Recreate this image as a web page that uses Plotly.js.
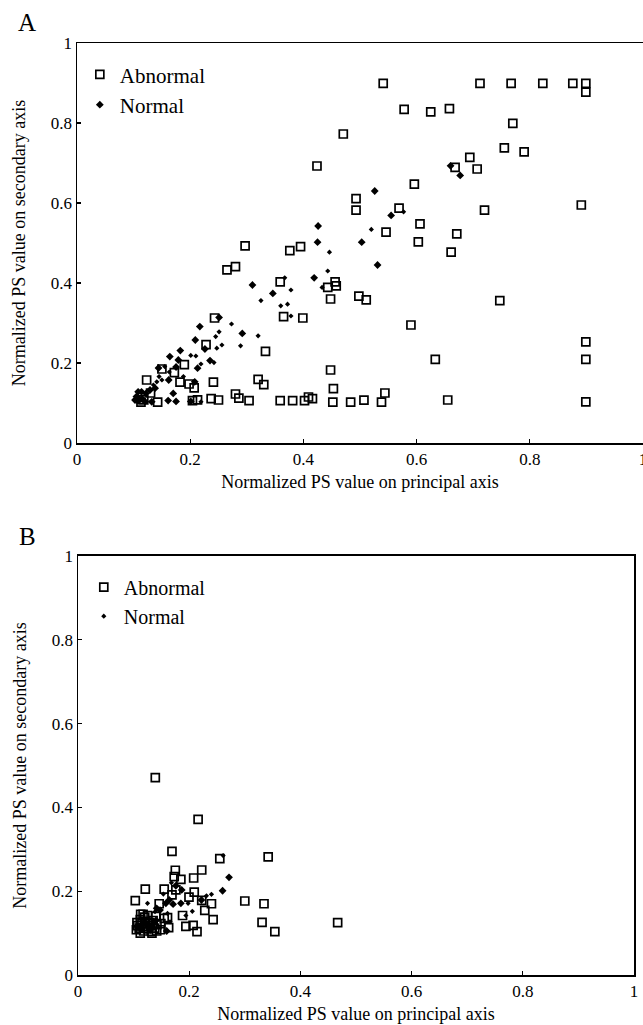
<!DOCTYPE html>
<html>
<head>
<meta charset="utf-8">
<script src="https://cdn.plot.ly/plotly-3.0.1.min.js"></script>
<style>html,body{margin:0;padding:0;background:#fff;}#chart{width:643px;height:1025px;}</style>
</head>
<body>
<div id="chart"></div>
<script>
// ---- Panel A data ----
const aAbnormalX = [0.541,0.712,0.767,0.823,0.876,0.899,0.899,0.578,0.625,0.658,0.770,0.755,0.790,0.694,0.668,0.707,0.596,0.569,0.720,0.891,0.606,0.546,0.671,0.603,0.661,0.4705,0.424,0.493,0.493,0.297,0.376,0.395,0.265,0.280,0.359,0.456,0.443,0.458,0.448,0.498,0.511,0.747,0.590,0.365,0.399,0.243,0.333,0.228,0.1896,0.150,0.172,0.182,0.198,0.207,0.241,0.123,0.320,0.330,0.899,0.899,0.633,0.448,0.453,0.544,0.113,0.1425,0.204,0.213,0.237,0.250,0.280,0.286,0.304,0.359,0.381,0.402,0.409,0.416,0.452,0.4835,0.507,0.538,0.655,0.899,0.130,0.118];
const aAbnormalY = [0.899,0.899,0.899,0.899,0.899,0.899,0.877,0.834,0.828,0.836,0.799,0.738,0.728,0.714,0.689,0.685,0.647,0.587,0.582,0.595,0.548,0.527,0.523,0.503,0.477,0.7725,0.6925,0.611,0.582,0.493,0.481,0.491,0.433,0.441,0.403,0.403,0.389,0.393,0.360,0.367,0.358,0.356,0.295,0.316,0.3125,0.3125,0.229,0.246,0.196,0.185,0.176,0.152,0.1475,0.138,0.152,0.1575,0.159,0.146,0.253,0.209,0.209,0.1825,0.136,0.125,0.102,0.102,0.106,0.108,0.111,0.1075,0.1225,0.112,0.106,0.106,0.106,0.106,0.115,0.111,0.102,0.102,0.107,0.102,0.1075,0.103,0.125,0.108];
const aNormalDotX = [0.660,0.677,0.526,0.555,0.503,0.531,0.426,0.425,0.419,0.310,0.346,0.251,0.217,0.292,0.209,0.1825,0.164,0.235,0.213,0.179,0.175,0.162,0.144,0.208,0.226,0.1025,0.108,0.115,0.120,0.132,0.161,0.175,0.201,0.129,0.138,0.122,0.114,0.108,0.105,0.170];
const aNormalDotY = [0.693,0.669,0.630,0.569,0.502,0.445,0.5425,0.502,0.413,0.395,0.374,0.314,0.291,0.274,0.2575,0.231,0.216,0.206,0.187,0.2075,0.190,0.1575,0.1875,0.153,0.235,0.1075,0.105,0.110,0.104,0.103,0.106,0.104,0.104,0.1325,0.137,0.124,0.128,0.128,0.116,0.124];
const aNormalPlusX = [0.577,0.520,0.446,0.443,0.367,0.433,0.378,0.325,0.360,0.372,0.378,0.273,0.251,0.245,0.320,0.289,0.256,0.247,0.201,0.210,0.242,0.219,0.155,0.163,0.188,0.145,0.141,0.135,0.150,0.219];
const aNormalPlusY = [0.578,0.534,0.477,0.430,0.413,0.389,0.3825,0.356,0.343,0.347,0.3175,0.2975,0.278,0.266,0.268,0.243,0.245,0.237,0.219,0.2175,0.201,0.1975,0.191,0.1775,0.166,0.166,0.153,0.145,0.1575,0.103];

// ---- Panel B data ----
const bAbnormalX = [0.139,0.216,0.169,0.255,0.342,0.175,0.2225,0.173,0.185,0.208,0.121,0.155,0.176,0.209,0.169,0.1996,0.103,0.2225,0.240,0.300,0.3345,0.146,0.228,0.188,0.243,0.331,0.194,0.207,0.214,0.354,0.163,0.149,0.1415,0.161,0.1127,0.467,0.105,0.110,0.118,0.125,0.132,0.107,0.115,0.122,0.130,0.138,0.112,0.120,0.128,0.135,0.142,0.117,0.125,0.106,0.148,0.155,0.140,0.133,0.112,0.120];
const bAbnormalY = [0.471,0.3715,0.295,0.2775,0.282,0.250,0.2506,0.2347,0.228,0.2315,0.205,0.205,0.203,0.198,0.191,0.186,0.1774,0.178,0.170,0.1766,0.170,0.170,0.154,0.142,0.132,0.1257,0.116,0.1186,0.1034,0.1034,0.113,0.1225,0.105,0.1368,0.145,0.125,0.108,0.112,0.105,0.110,0.104,0.118,0.122,0.128,0.118,0.112,0.132,0.138,0.125,0.130,0.120,0.145,0.142,0.125,0.108,0.135,0.140,0.100,0.100,0.115];
const bNormalDotX = [0.2716,0.260,0.222,0.185,0.176,0.1595,0.1865,0.164,0.158,0.171,0.1415,0.1475,0.115,0.125,0.130,0.108,0.120,0.135,0.140];
const bNormalDotY = [0.233,0.201,0.179,0.171,0.213,0.105,0.203,0.179,0.171,0.169,0.159,0.155,0.110,0.118,0.108,0.113,0.125,0.122,0.130];
const bNormalPlusX = [0.261,0.240,0.231,0.2056,0.194,0.168,0.1535,0.125,0.198,0.161,0.1655,0.1385];
const bNormalPlusY = [0.285,0.1925,0.189,0.152,0.142,0.220,0.193,0.171,0.171,0.147,0.127,0.151];

const tickVals = [0,0.2,0.4,0.6,0.8,1];
const tickText = ['0','0.2','0.4','0.6','0.8','1'];
const seriesNames = ['Abnormal','Normal'];

const serif = 'Liberation Serif, Times New Roman, serif';
const sq = {symbol:'square-open', size:8, color:'#000', line:{color:'#000', width:1.7}};
const dot = {symbol:'diamond', size:6, color:'#000', line:{width:0}};
const plus = {symbol:'diamond', size:4, color:'#000', line:{width:0}};

const traces = [
  {x:aAbnormalX, y:aAbnormalY, xaxis:'x', yaxis:'y', mode:'markers', type:'scatter', name:seriesNames[0], marker:sq, legend:'legend', legendrank:1},
  {x:aNormalDotX, y:aNormalDotY, xaxis:'x', yaxis:'y', mode:'markers', type:'scatter', name:seriesNames[1], marker:dot, legend:'legend', legendrank:2},
  {x:aNormalPlusX, y:aNormalPlusY, xaxis:'x', yaxis:'y', mode:'markers', type:'scatter', name:seriesNames[1], marker:plus, showlegend:false},
  {x:bAbnormalX, y:bAbnormalY, xaxis:'x2', yaxis:'y2', mode:'markers', type:'scatter', name:seriesNames[0], marker:sq, legend:'legend2', legendrank:1},
  {x:bNormalDotX, y:bNormalDotY, xaxis:'x2', yaxis:'y2', mode:'markers', type:'scatter', name:seriesNames[1], marker:dot, showlegend:false},
  {x:bNormalPlusX, y:bNormalPlusY, xaxis:'x2', yaxis:'y2', mode:'markers', type:'scatter', name:seriesNames[1], marker:plus, legend:'legend2', legendrank:2}
];

function xAx(domain, anchor, mirror){
  return {domain:domain, anchor:anchor, range:[0,1], tickvals:tickVals, ticktext:tickText,
    ticks:'inside', ticklen:4, tickwidth:1.2, tickcolor:'#000', showline:true, linecolor:'#000', linewidth:1.5,
    mirror:mirror, showgrid:false, zeroline:false, fixedrange:true, ticklabeloverflow:'allow',
    tickfont:{family:serif, size:17, color:'#000'},
    title:{text:'Normalized PS value on principal axis', font:{family:serif, size:18, color:'#000'}, standoff:7}};
}
function yAx(domain, anchor, mirror){
  return {domain:domain, anchor:anchor, range:[0,1], tickvals:tickVals, ticktext:tickText,
    ticks:'inside', ticklen:4, tickwidth:1.2, tickcolor:'#000', showline:true, linecolor:'#000', linewidth:1.5,
    mirror:mirror, showgrid:false, zeroline:false, fixedrange:true, ticklabeloverflow:'allow',
    tickfont:{family:serif, size:17, color:'#000'},
    title:{text:'Normalized PS value on secondary axis', font:{family:serif, size:18, color:'#000'}, standoff:20}};
}

const layout = {
  width:643, height:1025,
  margin:{l:77, r:0, t:43, b:50},
  paper_bgcolor:'#fff', plot_bgcolor:'#fff',
  font:{family:serif, color:'#000'},
  xaxis: xAx([0,1], 'y', true),
  yaxis: yAx([0.5708,1], 'x', false),
  xaxis2: xAx([0.0018,0.9841], 'y2', true),
  yaxis2: yAx([0,0.4496], 'x2', true),
  legend:{x:0.005, y:0.988, xanchor:'left', yanchor:'top', bgcolor:'rgba(0,0,0,0)', font:{family:serif, size:21, color:'#000'}, tracegroupgap:0},
  legend2:{x:0.012, y:0.437, xanchor:'left', yanchor:'top', bgcolor:'rgba(0,0,0,0)', font:{family:serif, size:20, color:'#000'}, tracegroupgap:0},
  annotations:[
    {text:'A', xref:'paper', yref:'paper', x:-0.088, y:1.0215, xanchor:'center', yanchor:'middle', showarrow:false, font:{family:serif, size:25, color:'#000'}},
    {text:'B', xref:'paper', yref:'paper', x:-0.088, y:0.471, xanchor:'center', yanchor:'middle', showarrow:false, font:{family:serif, size:25, color:'#000'}}
  ],
  showlegend:true
};

Plotly.newPlot('chart', traces, layout, {staticPlot:true, displayModeBar:false});
</script>
</body>
</html>
